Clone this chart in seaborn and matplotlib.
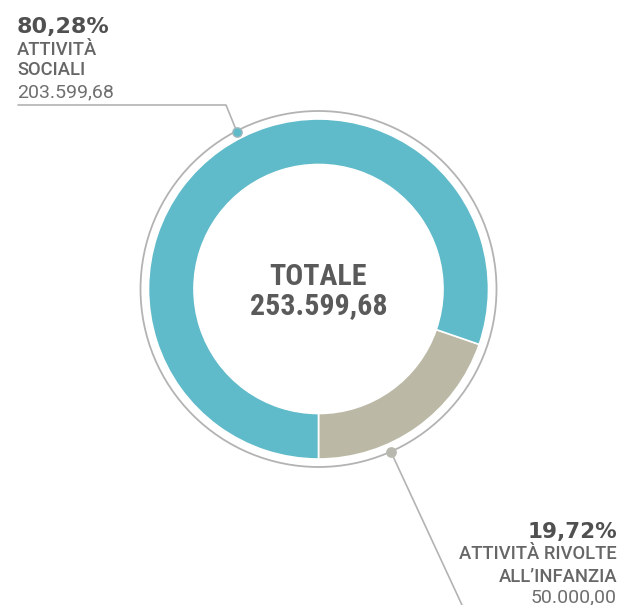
import seaborn as sns
import matplotlib.pyplot as plt
from matplotlib import font_manager as fm

# Data
categories = ['ATTIVITÀ RIVOLTE\nALL\u2019INFANZIA', 'ATTIVITÀ\nSOCIALI']
values = [50000.00, 203599.68]
percent_labels = ['19,72%', '80,28%']
value_labels = ['50.000,00', '203.599,68']
total_label = '253.599,68'
colors = ['#bbb9a6', '#5fbac9']

sns.set_theme(style="white")


def is_narrow(f):
    return ('Narrow' in f.name or 'Condensed' in f.name
            or f.stretch in ('condensed', 'semi-condensed', 'extra-condensed', 500, 600, 700)
            or 'ondensed' in f.fname or 'Narrow' in f.fname)


def weight_num(w):
    if isinstance(w, int):
        return w
    return {'normal': 400, 'regular': 400, 'book': 400, 'bold': 700, 'medium': 500}.get(w, 400)


def pick_condensed_bold():
    narrow = [f for f in fm.fontManager.ttflist if is_narrow(f) and 'Italic' not in f.fname
              and 'Oblique' not in f.fname and f.style == 'normal']
    order = ['Roboto Condensed', 'Liberation Sans Narrow', 'Noto Sans', 'Open Sans', 'DejaVu Sans']
    for fam in order:
        bold = [f for f in narrow if f.name.startswith(fam) and weight_num(f.weight) == 700]
        if bold:
            return fm.FontProperties(fname=bold[0].fname)
    return fm.FontProperties(family='Roboto', weight='bold')


fp_center = pick_condensed_bold()
fp_pct = fm.FontProperties(family='DejaVu Sans', weight='bold')
fp_label = fm.FontProperties(family=['Roboto', 'DejaVu Sans'], weight='medium')
fp_value = fm.FontProperties(family=['Roboto', 'DejaVu Sans'], weight='normal')

W, H = 619, 605
fig = plt.figure(figsize=(W / 100, H / 100), dpi=100)
ax = fig.add_axes([0, 0, 1, 1])

cx, cy = 318.5, H - 289
r_out, r_in = 170, 124.5

# Donut
ax.pie(values, colors=colors, startangle=-90, counterclock=True,
       center=(cx, cy), radius=r_out, frame=True,
       wedgeprops=dict(width=r_out - r_in, edgecolor='white', linewidth=1.2))
ax.set_xlim(0, W)
ax.set_ylim(0, H)
ax.set_aspect('equal')
ax.axis('off')

# Outer thin ring
ring = plt.Circle((cx, cy), 178, fill=False, edgecolor='#b3b3b3', linewidth=1.3)
ax.add_patch(ring)

# Leader lines and dots
line_c = '#b3b3b3'
ax.plot([18, 226, 237], [H - 105, H - 105, H - 132], color=line_c, lw=1.2)
ax.scatter([237], [H - 132], s=45, color='#5fbac9', edgecolor='#9fb8bd', zorder=5)
ax.plot([391, 462], [H - 452, 0], color=line_c, lw=1.2)
ax.scatter([391], [H - 452], s=45, color='#b9b8ae', zorder=5)

dark = '#505050'
mid = '#666666'
light = '#6f6f6f'


def txt(x, y, s, size, fp, color, ha):
    fp = fp.copy()
    fp.set_size(size)
    ax.text(x, H - y, s, fontproperties=fp, color=color, va='baseline', ha=ha)


# Top-left label
txt(17, 33, percent_labels[1], 16, fp_pct, dark, 'left')
txt(17, 55, 'ATTIVITÀ', 13.2, fp_label, mid, 'left')
txt(17, 75, 'SOCIALI', 13.2, fp_label, mid, 'left')
txt(17, 97, value_labels[1], 14, fp_value, light, 'left')

# Bottom-right label
txt(617, 538, percent_labels[0], 15.5, fp_pct, dark, 'right')
txt(617, 559, 'ATTIVITÀ RIVOLTE', 13.2, fp_label, mid, 'right')
txt(617, 582, 'ALL\u2019INFANZIA', 13.2, fp_label, mid, 'right')
txt(617, 602, value_labels[0], 14, fp_value, light, 'right')

# Centre
txt(cx, 285, 'TOTALE', 21.5, fp_center, '#5a5a5a', 'center')
txt(cx, 314, total_label, 21.5, fp_center, '#5a5a5a', 'center')

plt.savefig('out.png', dpi=100)
